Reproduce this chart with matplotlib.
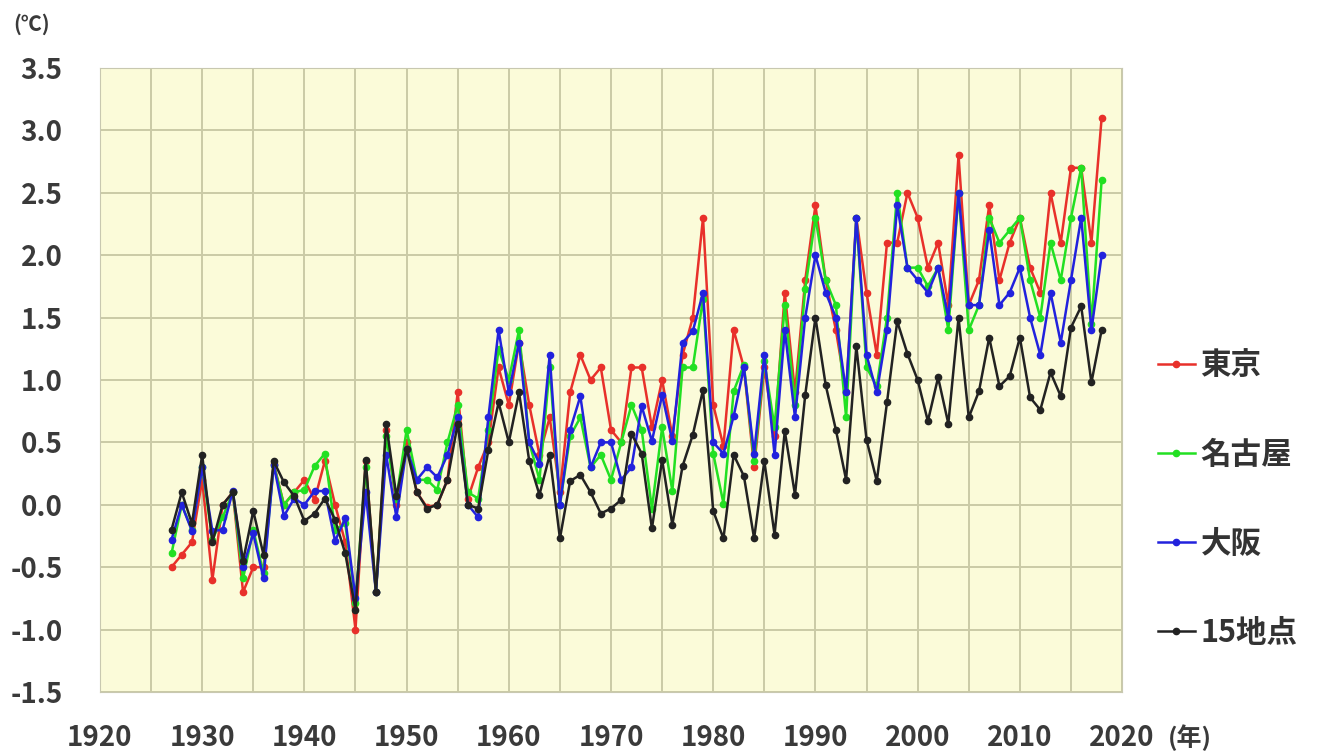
import numpy as np
import matplotlib
matplotlib.use("Agg")
import matplotlib.pyplot as plt
from matplotlib.ticker import MultipleLocator

plt.rcParams['font.family'] = ['Noto Sans CJK JP', 'DejaVu Sans']

years = np.arange(1927, 2019)

tokyo = [-0.50, -0.40, -0.30, 0.20, -0.60, 0.00, 0.10, -0.70, -0.50, -0.50,
         0.33, 0.00, 0.10, 0.20, 0.04, 0.35, 0.00, -0.30, -1.00, 0.35,
         -0.70, 0.60, 0.00, 0.50, 0.10, -0.02, 0.00, 0.20, 0.90, 0.05,
         0.30, 0.50, 1.10, 0.80, 1.30, 0.80, 0.40, 0.70, 0.10, 0.90,
         1.20, 1.00, 1.10, 0.60, 0.50, 1.10, 1.10, 0.62, 1.00, 0.55,
         1.20, 1.50, 2.30, 0.80, 0.47, 1.40, 1.10, 0.30, 1.10, 0.55,
         1.70, 0.90, 1.80, 2.40, 1.80, 1.40, 0.90, 2.30, 1.70, 1.20,
         2.10, 2.10, 2.50, 2.30, 1.90, 2.10, 1.60, 2.80, 1.60, 1.80,
         2.40, 1.80, 2.10, 2.30, 1.90, 1.70, 2.50, 2.10, 2.70, 2.70,
         2.10, 3.10]

nagoya = [-0.39, 0.00, -0.20, 0.30, -0.28, -0.10, 0.10, -0.59, -0.20, -0.55,
          0.32, 0.00, 0.10, 0.12, 0.31, 0.41, -0.20, -0.15, -0.79, 0.30,
          -0.70, 0.55, 0.05, 0.60, 0.20, 0.20, 0.12, 0.50, 0.80, 0.10,
          0.05, 0.60, 1.25, 1.00, 1.40, 0.50, 0.20, 1.10, 0.00, 0.55,
          0.70, 0.30, 0.40, 0.20, 0.50, 0.80, 0.60, -0.03, 0.62, 0.11,
          1.10, 1.10, 1.65, 0.41, 0.01, 0.91, 1.12, 0.35, 1.15, 0.62,
          1.60, 0.80, 1.73, 2.30, 1.80, 1.60, 0.70, 2.30, 1.10, 0.95,
          1.50, 2.50, 1.90, 1.90, 1.75, 1.90, 1.40, 2.50, 1.40, 1.60,
          2.30, 2.10, 2.20, 2.30, 1.80, 1.50, 2.10, 1.80, 2.30, 2.70,
          1.45, 2.60]

osaka = [-0.28, 0.00, -0.21, 0.30, -0.21, -0.20, 0.11, -0.50, -0.23, -0.59,
         0.32, -0.09, 0.05, 0.00, 0.11, 0.11, -0.29, -0.11, -0.75, 0.10,
         -0.70, 0.40, -0.10, 0.45, 0.20, 0.30, 0.22, 0.40, 0.70, 0.00,
         -0.10, 0.70, 1.40, 0.90, 1.30, 0.50, 0.33, 1.20, 0.00, 0.60,
         0.87, 0.30, 0.50, 0.50, 0.20, 0.30, 0.79, 0.51, 0.88, 0.51,
         1.30, 1.39, 1.70, 0.50, 0.41, 0.71, 1.10, 0.41, 1.20, 0.40,
         1.40, 0.70, 1.50, 2.00, 1.70, 1.50, 0.90, 2.30, 1.20, 0.90,
         1.40, 2.40, 1.90, 1.80, 1.70, 1.90, 1.50, 2.50, 1.60, 1.60,
         2.20, 1.60, 1.70, 1.90, 1.50, 1.20, 1.70, 1.30, 1.80, 2.30,
         1.40, 2.00]

points15 = [-0.20, 0.10, -0.15, 0.40, -0.30, 0.00, 0.10, -0.45, -0.05, -0.40,
            0.35, 0.18, 0.07, -0.13, -0.07, 0.05, -0.12, -0.39, -0.84, 0.36,
            -0.70, 0.65, 0.07, 0.45, 0.10, -0.03, 0.00, 0.20, 0.65, 0.00,
            -0.03, 0.44, 0.82, 0.50, 0.90, 0.35, 0.08, 0.40, -0.27, 0.19,
            0.24, 0.10, -0.07, -0.03, 0.04, 0.57, 0.41, -0.19, 0.36, -0.16,
            0.31, 0.56, 0.92, -0.05, -0.27, 0.40, 0.23, -0.27, 0.35, -0.24,
            0.59, 0.08, 0.88, 1.50, 0.96, 0.60, 0.20, 1.27, 0.52, 0.19,
            0.82, 1.47, 1.21, 1.00, 0.67, 1.02, 0.65, 1.50, 0.70, 0.91,
            1.34, 0.95, 1.03, 1.34, 0.86, 0.76, 1.06, 0.87, 1.42, 1.59,
            0.98, 1.40]

labels = ['東京', '名古屋', '大阪', '15地点']
colors = ['#e8302a', '#22e022', '#2222dd', '#222222']

fig = plt.figure(figsize=(13.17, 7.51), dpi=100)
ax = fig.add_axes([0.0759, 0.0786, 0.7761, 0.8309])
ax.set_facecolor('#fbfbd9')

for vals, lab, col in zip([tokyo, nagoya, osaka, points15], labels, colors):
    ax.plot(years, vals, color=col, lw=1.8, marker='o', ms=4.5, label=lab)

ax.set_xlim(1920, 2020)
ax.set_ylim(-1.5, 3.5)
ax.xaxis.set_major_locator(MultipleLocator(10))
ax.xaxis.set_minor_locator(MultipleLocator(5))
ax.yaxis.set_major_locator(MultipleLocator(0.5))
ax.yaxis.set_major_formatter(plt.FuncFormatter(lambda v, p: f'{v:.1f}'))
ax.grid(True, which='both', color='#cacaa6', lw=1.4)
ax.set_axisbelow(True)
ax.tick_params(which='both', length=0)
ax.tick_params(axis='y', pad=27, labelsize=20, labelcolor='#3a3a3a')
ax.tick_params(axis='x', pad=23, labelsize=20, labelcolor='#3a3a3a')
for lbl in ax.get_xticklabels() + ax.get_yticklabels():
    lbl.set_fontweight('bold')
for s in ax.spines.values():
    s.set_color('#c8c8b0')

fig.text(0.010, 0.968, '(℃)', fontsize=15, color='#3a3a3a', ha='left', va='center',
         fontweight='bold')
fig.text(0.887, 0.017, '(年)', fontsize=18, color='#3a3a3a', ha='left', va='center',
         fontweight='bold')

leg = ax.legend(loc='center left', bbox_to_anchor=(1.035, 0.309), frameon=False,
                fontsize=22, labelspacing=1.87, handlelength=1.2, handletextpad=0.2,
                borderpad=0, borderaxespad=0, labelcolor='#333333')
for t in leg.get_texts():
    t.set_fontweight('bold')

plt.savefig('out.png', dpi=100)
